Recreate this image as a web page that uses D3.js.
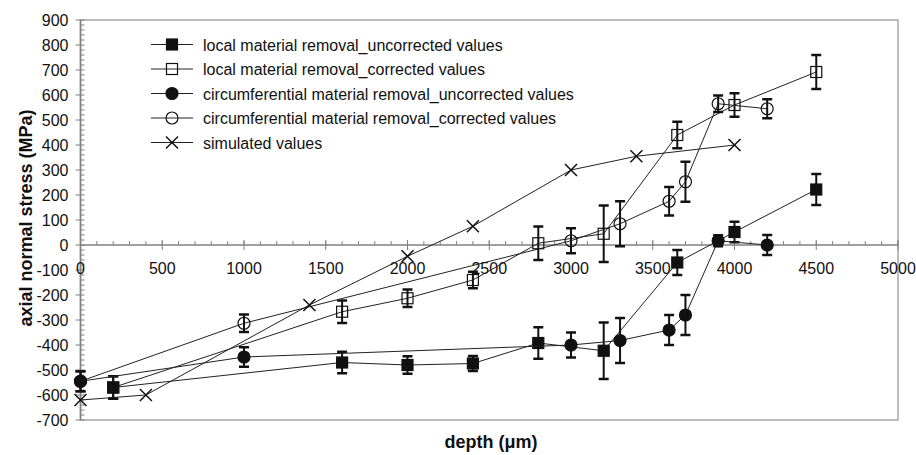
<!DOCTYPE html>
<html>
<head>
<meta charset="utf-8">
<script src="https://cdn.jsdelivr.net/npm/d3@7/dist/d3.min.js"></script>
<style>
  body { margin: 0; background: #fff; }
  svg { display: block; }
</style>
</head>
<body>
<div id="chart"></div>
<script>
// depth in µm, stress in MPa
const localDepth = [200, 1600, 2000, 2400, 2800, 3200, 3650, 4000, 4500]
const localUncorrected = [-570, -470, -480, -474, -392, -423, -70, 52, 222]
const localUncorrectedErr = [45, 43, 35, 30, 63, 113, 50, 41, 62]
const localCorrected = [-570, -267, -213, -140, 7, 45, 440, 560, 692]
const localCorrectedErr = [45, 45, 35, 33, 67, 113, 53, 47, 68]

const circDepth = [0, 1000, 3000, 3300, 3600, 3700, 3900, 4200]
const circUncorrected = [-545, -448, -400, -382, -340, -280, 17, 0]
const circUncorrectedErr = [40, 39, 50, 90, 60, 80, 22, 40]
const circCorrected = [-545, -313, 17, 85, 175, 253, 565, 545]
const circCorrectedErr = [40, 35, 50, 90, 57, 80, 33, 38]

const simDepth = [0, 400, 1400, 2000, 2400, 3000, 3400, 4000]
const simValues = [-620, -600, -240, -45, 75, 300, 355, 400]

const legendLabels = [
  'local material removal_uncorrected values',
  'local material removal_corrected values',
  'circumferential material removal_uncorrected values',
  'circumferential material removal_corrected values',
  'simulated values'
]

const xTicks = d3.range(0, 5001, 500)
const yTicks = d3.range(-700, 901, 100)

const width = 916
const height = 455
const ink = '#111'
const font = 'Arial, "Liberation Sans", sans-serif'

const svg = d3.select('#chart')
  .append('svg')
  .attr('width', width)
  .attr('height', height)
  .style('font-family', font)

const x = d3.scaleLinear().domain([0, 5000]).range([80.5, 898])
const y = d3.scaleLinear().domain([-700, 900]).range([420, 20])

// plot frame
svg.append('rect')
  .attr('x', x(0))
  .attr('y', y(900))
  .attr('width', x(5000) - x(0))
  .attr('height', y(-700) - y(900))
  .attr('fill', 'none')
  .attr('stroke', '#a6a6a6')
  .attr('stroke-width', 1.5)

// y axis
const yAxis = svg.append('g')
yAxis.append('line')
  .attr('x1', x(0)).attr('x2', x(0))
  .attr('y1', y(900)).attr('y2', y(-700))
  .attr('stroke', '#808080').attr('stroke-width', 1.5)
yAxis.selectAll('.minor')
  .data(d3.range(-700, 901, 20))
  .join('line')
  .attr('x1', x(0)).attr('x2', x(0) + 4)
  .attr('y1', (d) => y(d)).attr('y2', (d) => y(d))
  .attr('stroke', '#808080')
yAxis.selectAll('.major')
  .data(yTicks)
  .join('line')
  .attr('x1', x(0) - 5).attr('x2', x(0))
  .attr('y1', (d) => y(d)).attr('y2', (d) => y(d))
  .attr('stroke', '#808080')
yAxis.selectAll('text')
  .data(yTicks)
  .join('text')
  .attr('x', 68.5)
  .attr('y', (d) => y(d) + 6)
  .attr('text-anchor', 'end')
  .attr('font-size', 16)
  .attr('fill', ink)
  .text((d) => d)

// x axis at zero
const xAxis = svg.append('g')
xAxis.append('line')
  .attr('x1', x(0)).attr('x2', x(5000))
  .attr('y1', y(0)).attr('y2', y(0))
  .attr('stroke', '#808080').attr('stroke-width', 1.5)
xAxis.selectAll('.minor')
  .data(d3.range(0, 5001, 100))
  .join('line')
  .attr('x1', (d) => x(d)).attr('x2', (d) => x(d))
  .attr('y1', y(0) - 4).attr('y2', y(0))
  .attr('stroke', '#808080')
xAxis.selectAll('.major')
  .data(xTicks)
  .join('line')
  .attr('x1', (d) => x(d)).attr('x2', (d) => x(d))
  .attr('y1', y(0) - 5).attr('y2', y(0) + 5)
  .attr('stroke', '#808080')
xAxis.selectAll('text')
  .data(xTicks)
  .join('text')
  .attr('x', (d) => x(d))
  .attr('y', y(0) + 29)
  .attr('text-anchor', 'middle')
  .attr('font-size', 16)
  .attr('fill', ink)
  .text((d) => d)

// axis titles
svg.append('text')
  .attr('transform', 'translate(32,218) rotate(-90)')
  .attr('text-anchor', 'middle')
  .attr('font-size', 18)
  .attr('font-weight', 'bold')
  .attr('fill', ink)
  .text('axial normal stress (MPa)')

svg.append('text')
  .attr('x', 491)
  .attr('y', 448)
  .attr('text-anchor', 'middle')
  .attr('font-size', 18)
  .attr('font-weight', 'bold')
  .attr('fill', ink)
  .text('depth (\u03bcm)')

// marker drawing
const drawMarker = (g, kind, cx, cy) => {
  if (kind === 'squareFilled' || kind === 'squareOpen') {
    g.append('rect')
      .attr('x', cx - 5.5).attr('y', cy - 5.5)
      .attr('width', 11).attr('height', 11)
      .attr('fill', kind === 'squareFilled' ? ink : 'none')
      .attr('stroke', ink).attr('stroke-width', 1.2)
  } else if (kind === 'circleFilled' || kind === 'circleOpen') {
    g.append('circle')
      .attr('cx', cx).attr('cy', cy).attr('r', 6)
      .attr('fill', kind === 'circleFilled' ? ink : 'none')
      .attr('stroke', ink).attr('stroke-width', 1.2)
  } else {
    g.append('path')
      .attr('d', `M${cx - 6},${cy - 6}L${cx + 6},${cy + 6}M${cx - 6},${cy + 6}L${cx + 6},${cy - 6}`)
      .attr('stroke', ink).attr('stroke-width', 1.5)
  }
}

const series = [
  { xs: localDepth, ys: localCorrected, err: localCorrectedErr, kind: 'squareOpen' },
  { xs: circDepth, ys: circCorrected, err: circCorrectedErr, kind: 'circleOpen' },
  { xs: simDepth, ys: simValues, err: null, kind: 'cross' },
  { xs: localDepth, ys: localUncorrected, err: localUncorrectedErr, kind: 'squareFilled' },
  { xs: circDepth, ys: circUncorrected, err: circUncorrectedErr, kind: 'circleFilled' }
]

const line = d3.line().x((d) => x(d[0])).y((d) => y(d[1]))

series.forEach((s) => {
  const pts = s.xs.map((d, i) => [d, s.ys[i], s.err ? s.err[i] : 0])
  const g = svg.append('g')
  g.append('path')
    .attr('d', line(pts))
    .attr('fill', 'none')
    .attr('stroke', '#222')
    .attr('stroke-width', 1)
  if (s.err) {
    pts.forEach((p) => {
      const cx = x(p[0])
      g.append('line')
        .attr('x1', cx).attr('x2', cx)
        .attr('y1', y(p[1] + p[2])).attr('y2', y(p[1] - p[2]))
        .attr('stroke', ink).attr('stroke-width', 2)
      ;[p[1] + p[2], p[1] - p[2]].forEach((v) => {
        g.append('line')
          .attr('x1', cx - 5).attr('x2', cx + 5)
          .attr('y1', y(v)).attr('y2', y(v))
          .attr('stroke', ink).attr('stroke-width', 2.5)
      })
    })
  }
  pts.forEach((p) => drawMarker(g, s.kind, x(p[0]), y(p[1])))
})

// legend
const legendKinds = ['squareFilled', 'squareOpen', 'circleFilled', 'circleOpen', 'cross']
const legend = svg.append('g')
legendLabels.forEach((label, i) => {
  const ly = 44.5 + i * 24.5
  legend.append('line')
    .attr('x1', 151).attr('x2', 193)
    .attr('y1', ly).attr('y2', ly)
    .attr('stroke', '#222')
  drawMarker(legend, legendKinds[i], 172, ly)
  legend.append('text')
    .attr('x', 203)
    .attr('y', ly + 6)
    .attr('font-size', 16)
    .attr('fill', ink)
    .text(label)
})
</script>
</body>
</html>
